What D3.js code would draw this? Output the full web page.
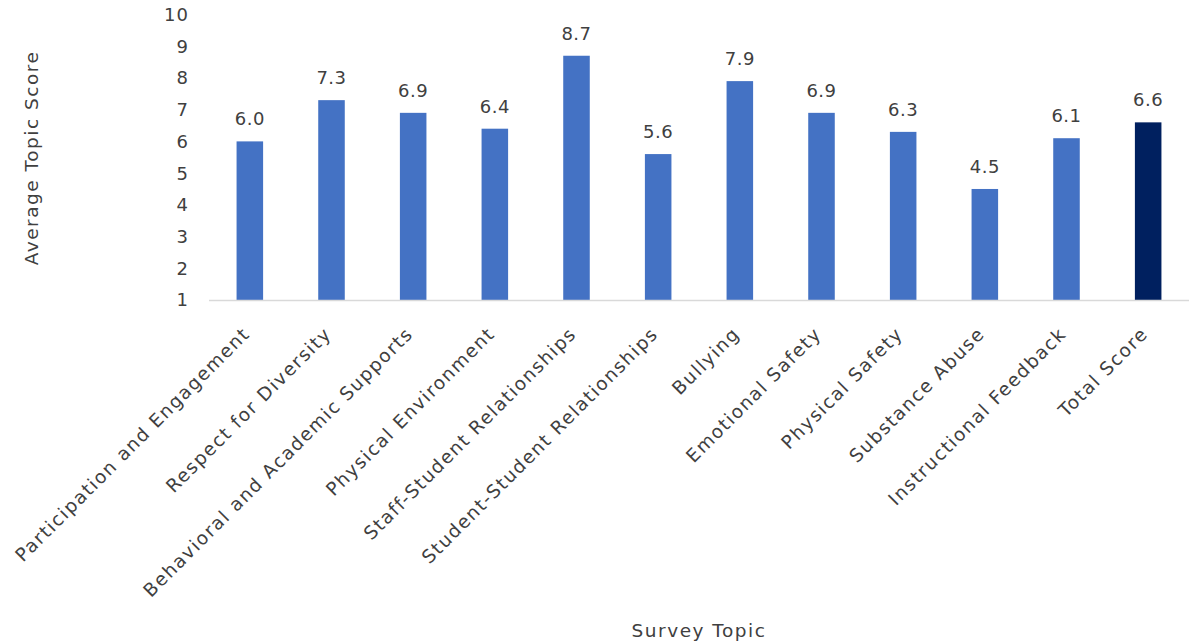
<!DOCTYPE html>
<html>
<head>
<meta charset="utf-8">
<script src="https://cdn.jsdelivr.net/npm/d3@7"></script>
<style>
body { margin: 0; background: #fff; }
svg { display: block; font-family: "DejaVu Sans", "Noto Sans", sans-serif; }
</style>
</head>
<body>
<svg width="1189" height="644"></svg>
<script>
// chart data
var topics = ["Participation and Engagement", "Respect for Diversity", "Behavioral and Academic Supports",
  "Physical Environment", "Staff-Student Relationships", "Student-Student Relationships", "Bullying",
  "Emotional Safety", "Physical Safety", "Substance Abuse", "Instructional Feedback", "Total Score"];
var scores = [6.0, 7.3, 6.9, 6.4, 8.7, 5.6, 7.9, 6.9, 6.3, 4.5, 6.1, 6.6];
var yTicks = [1, 2, 3, 4, 5, 6, 7, 8, 9, 10];

var svg = d3.select("svg");
var textColor = "#404040";

var x = d3.scaleBand()
    .domain(topics)
    .range([209, 1189])
    .paddingInner(0.675)
    .paddingOuter(0.3375);

var y = d3.scaleLinear()
    .domain([1, 10])
    .range([300, 14.5]);

// y tick labels (no axis line)
svg.append("g").selectAll("text")
    .data(yTicks)
  .enter().append("text")
    .attr("x", 189)
    .attr("y", function(d) { return y(d); })
    .attr("dy", "0.36em")
    .attr("text-anchor", "end")
    .attr("fill", textColor)
    .style("font-size", "18px")
    .style("letter-spacing", "1px")
    .text(function(d) { return d; });

// bars
svg.append("g").selectAll("rect")
    .data(scores)
  .enter().append("rect")
    .attr("x", function(d, i) { return x(topics[i]); })
    .attr("y", function(d) { return y(d); })
    .attr("width", x.bandwidth())
    .attr("height", function(d) { return y(1) - y(d); })
    .attr("fill", function(d, i) { return topics[i] == "Total Score" ? "#00205f" : "#4472c4"; });

// baseline
svg.append("line")
    .attr("x1", 209).attr("x2", 1189)
    .attr("y1", y(1) + 0.5).attr("y2", y(1) + 0.5)
    .attr("stroke", "#d9d9d9")
    .attr("stroke-width", 1.5);

// value labels
svg.append("g").selectAll("text")
    .data(scores)
  .enter().append("text")
    .attr("x", function(d, i) { return x(topics[i]) + x.bandwidth() / 2; })
    .attr("y", function(d) { return y(d) - 16; })
    .attr("text-anchor", "middle")
    .attr("fill", textColor)
    .style("font-size", "18px")
    .style("letter-spacing", "0.5px")
    .text(function(d) { return d.toFixed(1); });

// category labels, rotated
svg.append("g").selectAll("text")
    .data(topics)
  .enter().append("text")
    .attr("transform", function(d) {
      return "translate(" + (x(d) + x.bandwidth() / 2 + 1) + "," + 335 + ") rotate(-45)";
    })
    .attr("text-anchor", "end")
    .attr("fill", textColor)
    .style("font-size", "18.5px")
    .style("letter-spacing", "1.5px")
    .text(function(d) { return d; });

// axis titles
svg.append("text")
    .attr("transform", "translate(38,158) rotate(-90)")
    .attr("text-anchor", "middle")
    .attr("fill", textColor)
    .style("font-size", "18.5px")
    .style("letter-spacing", "1.5px")
    .text("Average Topic Score");

svg.append("text")
    .attr("x", 699)
    .attr("y", 637)
    .attr("text-anchor", "middle")
    .attr("fill", textColor)
    .style("font-size", "18.5px")
    .style("letter-spacing", "1.5px")
    .text("Survey Topic");
</script>
</body>
</html>
